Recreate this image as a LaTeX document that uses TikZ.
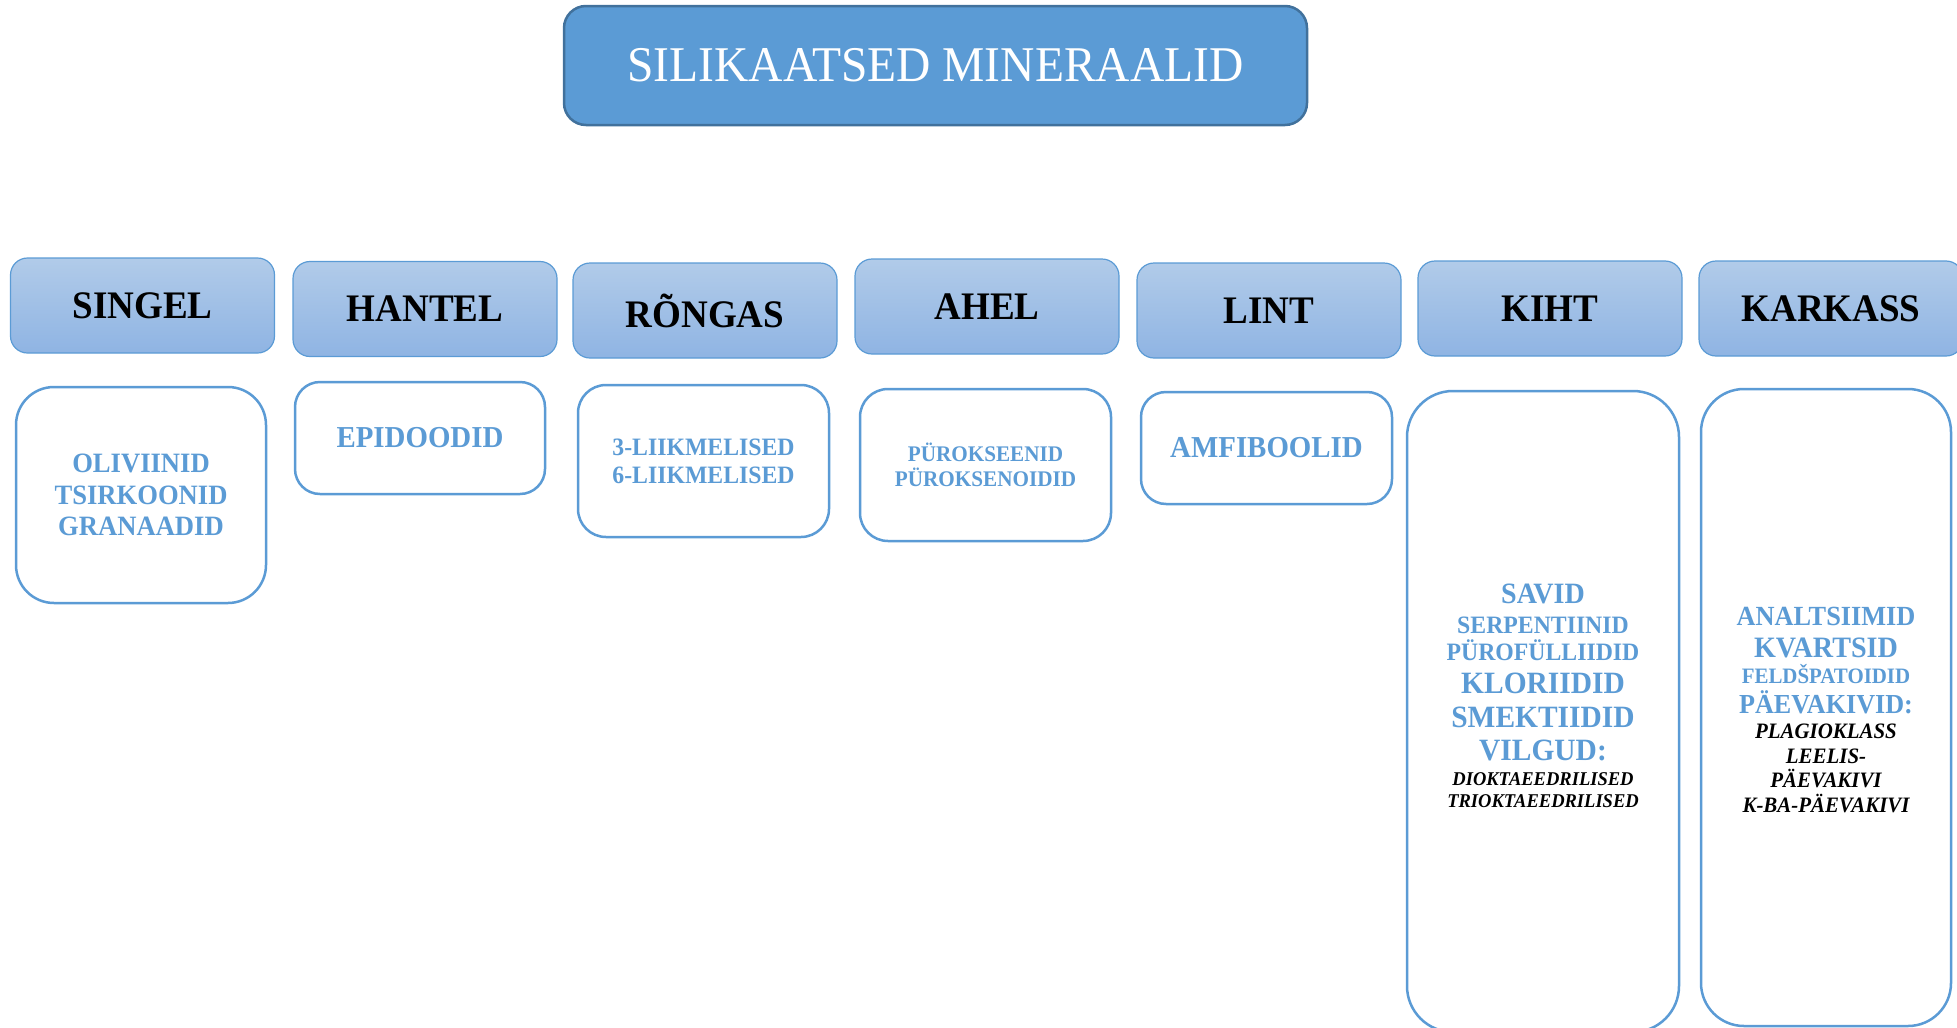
\documentclass[tikz,border=0pt]{standalone}
\usepackage{fontspec}
\setmainfont{Liberation Serif}[FakeStretch=0.95]

\definecolor{accent}{HTML}{5B9BD5}
\definecolor{accentdark}{HTML}{41719C}
\definecolor{tabtop}{HTML}{B1CBE9}
\definecolor{tabbot}{HTML}{8FB4E3}

\newcommand\fsz[2]{\fontsize{#1}{#2}\selectfont}

\begin{document}
\begin{tikzpicture}[x=1pt, y=-1pt,
  titlebox/.style={fill=accent, draw=accentdark, line width=2.5pt, rounded corners=22pt,
    text=white, font=\fsz{50}{54}, minimum width=743pt, minimum height=119pt},
  typebox/.style={top color=tabtop, bottom color=tabbot, draw=accent, line width=1.2pt,
    rounded corners=17pt, font=\bfseries\fsz{39}{42}, minimum width=264pt, minimum height=95pt},
  groupbox/.style={draw=accent, line width=2.5pt, rounded corners=#1, fill=white,
    text=accent, align=center, inner sep=0pt},
  groupbox/.default=28pt,
  groupline/.style={text=accent, anchor=base, inner sep=0pt},
  subline/.style={text=black, anchor=base, inner sep=0pt, font=\bfseries\itshape\fsz{#1}{#1}}]

  \useasboundingbox (0,0) rectangle (1957,1028);

  % Title
  \node[titlebox] (title) at (935.5,65.5) {SILIKAATSED MINERAALID};

  % Structure types
  \node[typebox] (singel)  at (142.5,305.5) {SINGEL};
  \node[typebox] (hantel)  at (425,309)     {HANTEL};
  \node[typebox] (rongas)  at (705,310.5)   {RÕNGAS};
  \node[typebox] (ahel)    at (987,306.5)   {AHEL};
  \node[typebox] (lint)    at (1269,310.5)  {LINT};
  \node[typebox] (kiht)    at (1550,308.5)  {KIHT};
  \node[typebox] (karkass) at (1831,308.5)  {KARKASS};

  % Mineral groups
  \node[groupbox=38pt, minimum width=250pt, minimum height=216pt,
        font=\bfseries\fsz{28}{31.5}] (singelgroup) at (141,495)
    {OLIVIINID\\TSIRKOONID\\GRANAADID};
  \node[groupbox=25pt, minimum width=250pt, minimum height=112pt,
        font=\bfseries\fsz{30.4}{33}] (hantelgroup) at (420,438) {EPIDOODID};
  \node[groupbox, minimum width=251pt, minimum height=152pt,
        font=\bfseries\fsz{25}{28}] (ronggroup) at (703.5,461)
    {3-LIIKMELISED\\6-LIIKMELISED};
  \node[groupbox, minimum width=251pt, minimum height=152pt,
        font=\bfseries\fsz{22.3}{25}] (ahelgroup) at (985.5,465)
    {PÜROKSEENID\\PÜROKSENOIDID};
  \node[groupbox=25pt, minimum width=251pt, minimum height=112pt,
        font=\bfseries\fsz{30.4}{33}] (lintgroup) at (1266.5,448) {AMFIBOOLID};
  \node[groupbox=46pt, minimum width=272pt, minimum height=641pt] (kihtgroup) at (1543,711.5) {};
  \node[groupbox=43pt, minimum width=250pt, minimum height=637pt] (karkassgroup) at (1826,707.5) {};

  % Sheet silicates
  \foreach \y/\s/\t in {603/29.5/SAVID, 633/25/SERPENTIINID, 660/25/PÜROFÜLLIIDID,
      693/31/KLORIIDID, 727/31/SMEKTIIDID, 760/31/VILGUD:}
    \node[groupline, font=\bfseries\fsz{\s}{\s}] (kiht-\y) at (1543,\y) {\t};
  \foreach \y/\t in {785/DIOKTAEEDRILISED, 807/TRIOKTAEEDRILISED}
    \node[subline=19.5] (kiht-\y) at (1543,\y) {\t};

  % Framework silicates
  \foreach \y/\s/\t in {625/27.7/ANALTSIIMID, 657/29.6/KVARTSID, 683/22/FELDŠPATOIDID,
      713/27.5/PÄEVAKIVID:}
    \node[groupline, font=\bfseries\fsz{\s}{\s}] (karkass-\y) at (1826,\y) {\t};
  \foreach \y/\t in {738/PLAGIOKLASS, 763/LEELIS-, 787/PÄEVAKIVI, 812/K-BA-PÄEVAKIVI}
    \node[subline=22] (karkass-\y) at (1826,\y) {\t};

\end{tikzpicture}
\end{document}
